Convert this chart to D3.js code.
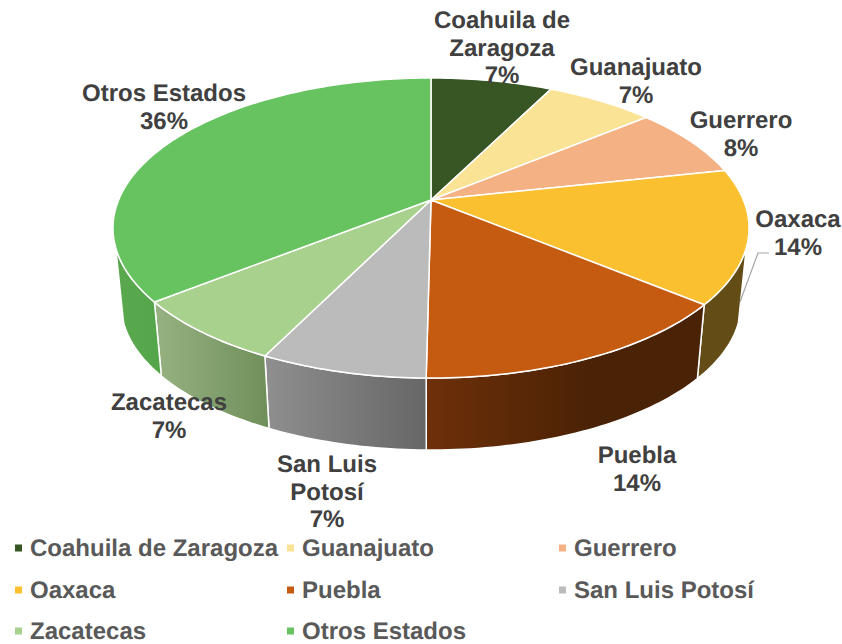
<!DOCTYPE html>
<html>
<head>
<meta charset="utf-8">
<script src="https://cdn.jsdelivr.net/npm/d3@7"></script>
<style>
  html, body { margin: 0; padding: 0; background: #fff; }
  text { font-family: "Liberation Sans", Arial, sans-serif; font-weight: bold; text-rendering: geometricPrecision; }
</style>
</head>
<body>
<div id="chart"></div>
<script>
const categories = ["Coahuila de Zaragoza", "Guanajuato", "Guerrero", "Oaxaca", "Puebla", "San Luis Potosí", "Zacatecas", "Otros Estados"];
const values = [7.4, 6.6, 7.6, 14.4, 14.2, 7.1, 7.0, 35.7];
const percentLabels = ["7%", "7%", "8%", "14%", "14%", "7%", "7%", "36%"];
const labelLines = [["Coahuila de", "Zaragoza"], ["Guanajuato"], ["Guerrero"], ["Oaxaca"], ["Puebla"], ["San Luis", "Potosí"], ["Zacatecas"], ["Otros Estados"]];
const topColors = ["#375623", "#fbe396", "#f4b183", "#fbc02f", "#c55a11", "#bbbbbb", "#a9d18e", "#66c35f"];
const wallColors = [null, null, null, ["#634c16", "#634c16"], ["#6e300a", "#4a2205"], ["#8f8f8f", "#666666"], ["#97b282", "#6f8f5a"], ["#5aa84e", "#54a64a"]];

// layout of the labels and legend, kept apart from the data
const labelAnchors = [[502, 28], [636, 75], [741, 128], [798, 227], [637, 463], [327, 472], [169, 410], [164, 101]];
const legendCols = [15, 287, 559];
const legendRows = [548, 590, 631];

const width = 842, height = 644;
const cx = 431, cy = 200;
const persp = 0.1867, scaleX = 312.4, scaleY = 144.8;
const wallOffset = 76.5, wallShrink = 0.975;
const wallFrom = 108 * Math.PI / 180, wallTo = 252 * Math.PI / 180;

const svg = d3.select("#chart").append("svg")
  .attr("width", width)
  .attr("height", height)
  .style("display", "block");

const defs = svg.append("defs");

// the pie lies on a tilted plane, so the disc goes through a perspective divide
function project(angle, bottom) {
  const x = Math.sin(angle), y = -Math.cos(angle);
  const d = 1 - persp * y;
  const px = scaleX * x / d, py = scaleY * y / d;
  if (bottom) return [cx + px * wallShrink, cy + wallOffset + py * wallShrink];
  return [cx + px, cy + py];
}

function arcPoints(a0, a1, bottom) {
  const n = Math.max(2, Math.ceil(Math.abs(a1 - a0) / 0.02));
  return d3.range(n + 1).map(i => project(a0 + (a1 - a0) * i / n, bottom));
}

const line = d3.line();
const slices = d3.pie().sort(null).value(d => d)(values);

// walls first, the top of the pie covers their upper edge
const walls = svg.append("g");
slices.forEach((s, i) => {
  const a0 = Math.max(s.startAngle, wallFrom), a1 = Math.min(s.endAngle, wallTo);
  if (a1 <= a0 || !wallColors[i]) return;
  const pts = arcPoints(a0, a1, false).concat(arcPoints(a1, a0, true));
  const xExtent = d3.extent(pts, p => p[0]);
  const grad = defs.append("linearGradient")
    .attr("id", `wall${i}`)
    .attr("gradientUnits", "userSpaceOnUse")
    .attr("x1", xExtent[0]).attr("x2", xExtent[1])
    .attr("y1", 0).attr("y2", 0);
  grad.append("stop").attr("offset", 0).attr("stop-color", wallColors[i][0]);
  grad.append("stop").attr("offset", i === 4 ? 0.6 : 1).attr("stop-color", wallColors[i][1]);
  walls.append("path")
    .attr("d", line(pts) + "Z")
    .attr("fill", `url(#wall${i})`)
    .attr("stroke", "#fff")
    .attr("stroke-width", 1.5)
    .attr("stroke-linejoin", "round");
});

const tops = svg.append("g");
slices.forEach((s, i) => {
  const pts = [[cx, cy]].concat(arcPoints(s.startAngle, s.endAngle, false));
  tops.append("path")
    .attr("d", line(pts) + "Z")
    .attr("fill", topColors[i])
    .attr("stroke", "#fff")
    .attr("stroke-width", 1.5)
    .attr("stroke-linejoin", "round");
});

// leader line of the Oaxaca label
svg.append("path")
  .attr("d", "M769,253H758L740,302")
  .attr("fill", "none")
  .attr("stroke", "#a6a6a6")
  .attr("stroke-width", 1.2);

const labels = svg.append("g");
categories.forEach((c, i) => {
  const rows = labelLines[i].concat(percentLabels[i]);
  const text = labels.append("text")
    .attr("text-anchor", "middle")
    .attr("fill", "#404040")
    .attr("font-size", 24);
  rows.forEach((r, j) => {
    text.append("tspan")
      .attr("x", labelAnchors[i][0])
      .attr("y", labelAnchors[i][1] + j * 27.7)
      .text(r);
  });
});

const legend = svg.append("g");
categories.forEach((c, i) => {
  const col = legendCols[i % 3], row = legendRows[Math.floor(i / 3)];
  legend.append("rect")
    .attr("x", col)
    .attr("y", row - 3.5)
    .attr("width", 7)
    .attr("height", 7)
    .attr("fill", topColors[i]);
  legend.append("text")
    .attr("x", col + 15)
    .attr("y", row + 7.8)
    .attr("fill", "#595959")
    .attr("font-size", 24)
    .text(c);
});
</script>
</body>
</html>
